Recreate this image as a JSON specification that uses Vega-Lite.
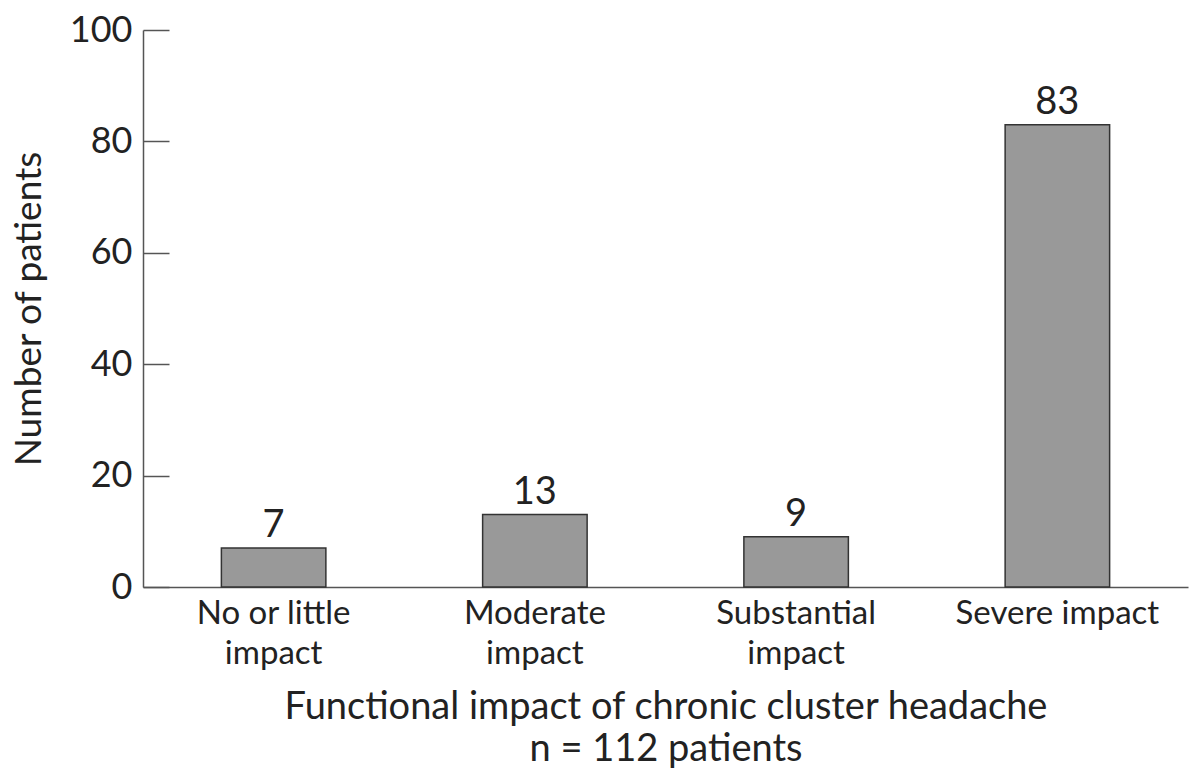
{
  "$schema": "https://vega.github.io/schema/vega-lite/v6.json",
  "width": 1045,
  "height": 557,
  "autosize": {"type": "none"},
  "padding": {"left": 143, "top": 30, "right": 5, "bottom": 193},
  "background": "white",
  "config": {
    "view": {"stroke": null},
    "font": "Lato",
    "axis": {"domainColor": "#555", "tickColor": "#555", "labelColor": "#222", "titleColor": "#222", "grid": false, "domainWidth": 1.5, "tickWidth": 1.5}
  },
  "data": {"values": [
    {"category": "No or little impact", "patients": 7},
    {"category": "Moderate impact", "patients": 13},
    {"category": "Substantial impact", "patients": 9},
    {"category": "Severe impact", "patients": 83}
  ]},
  "encoding": {
    "x": {
      "field": "category", "type": "nominal", "sort": null,
      "scale": {"paddingInner": 0.6, "paddingOuter": 0.3},
      "axis": {
        "title": ["Functional impact of chronic cluster headache", "n = 112 patients"],
        "titleFontSize": 38, "titleFontWeight": "normal", "titleLineHeight": 42, "titlePadding": 18,
        "labelFontSize": 33, "labelAngle": 0, "labelLineHeight": 40, "labelPadding": 10, "labelLimit": 0,
        "ticks": false,
        "labelExpr": "datum.value == 'No or little impact' ? ['No or little', 'impact'] : datum.value == 'Moderate impact' ? ['Moderate', 'impact'] : datum.value == 'Substantial impact' ? ['Substantial', 'impact'] : datum.value"
      }
    },
    "y": {
      "field": "patients", "type": "quantitative",
      "scale": {"domain": [0, 100]},
      "axis": {
        "title": "Number of patients", "titleFontSize": 37, "titleFontWeight": "normal", "titlePadding": 21,
        "values": [0, 20, 40, 60, 80, 100],
        "labelFontSize": 36, "tickSize": -26, "labelPadding": 37
      }
    }
  },
  "layer": [
    {"mark": {"type": "bar", "fill": "#999999", "stroke": "#333", "strokeWidth": 1.5}},
    {"mark": {"type": "text", "baseline": "alphabetic", "dy": -11, "fontSize": 38, "color": "#222"}, "encoding": {"text": {"field": "patients", "type": "quantitative"}}}
  ]
}
